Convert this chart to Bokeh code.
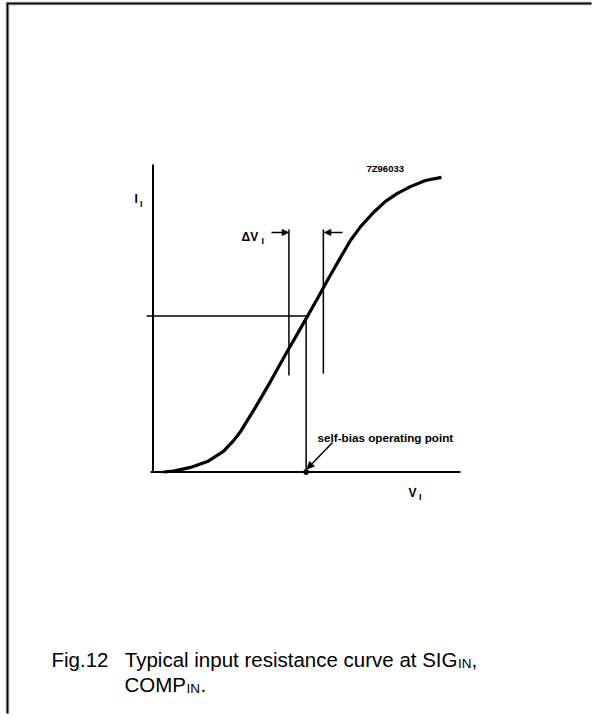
import math
from bokeh.plotting import figure
from bokeh.models import Range1d, Label
from bokeh.embed import file_html
from bokeh.resources import INLINE

# ---- data (normalised units: axis length = 1) ----
curve_v = [0.034, 0.067, 0.122, 0.177, 0.229, 0.262, 0.285, 0.333, 0.382, 0.431,
           0.470, 0.502, 0.535, 0.567, 0.610, 0.642, 0.675, 0.717, 0.756, 0.795,
           0.837, 0.886, 0.938]
curve_i = [0.000, 0.003, 0.015, 0.034, 0.067, 0.102, 0.132, 0.210, 0.294, 0.382,
           0.450, 0.506, 0.564, 0.623, 0.698, 0.753, 0.798, 0.844, 0.880, 0.906,
           0.928, 0.948, 0.958]
op_v, op_i = 0.498, 0.507           # self-bias operating point
dv_v = [0.442, 0.554]               # delta-V markers
dv_top = [0.789, 0.789]
dv_bot = [0.314, 0.320]
axis_x = [-0.008, 1.0]
axis_y = [-0.003, 1.0]

# ---- page-pixel mapping ----
W, H = 603, 725
X0, Y0, S = 152.5, 471.5, 307.5
def sx(px): return (px - X0) / S
def sy(py): return (Y0 - py) / S

p = figure(width=W, height=H, output_backend="svg", toolbar_location=None,
           x_range=Range1d(sx(0), sx(W)), y_range=Range1d(sy(H), sy(0)),
           min_border=0, outline_line_color=None)
p.axis.visible = False
p.grid.visible = False
p.background_fill_color = "white"
p.border_fill_color = "white"

# page border (left and top only), kept well inside the frame
bxs = [sx(7), sx(7), sx(W - 12)]
bys = [sy(H - 12), sy(3), sy(3)]
p.line(x=bxs, y=bys, line_color="#9a9a9a", line_width=3.5, line_join="miter")
p.line(x=bxs, y=bys, line_color="black", line_width=1.5, line_join="miter")

# axes
p.line(x=[0, 0], y=axis_y, line_color="black", line_width=2)
p.line(x=axis_x, y=[0, 0], line_color="black", line_width=2)

# operating point lines
p.line(x=[-0.021, op_v], y=[op_i, op_i], line_color="black", line_width=1.5)
p.line(x=[op_v, op_v], y=[op_i, 0], line_color="black", line_width=1.5)
p.scatter(x=[op_v], y=[0], size=5, color="black")

# delta-V lines
p.segment(x0=dv_v, y0=dv_bot, x1=dv_v, y1=dv_top, line_color="black", line_width=1.5)

# curve
p.line(x=curve_v, y=curve_i, line_color="black", line_width=3.2)

# arrows (drawn as line + filled head, in page pixels)
def arrow(x0, y0, x1, y1, L=7.0, hw=3.2, lw=1.5):
    d = math.hypot(x1 - x0, y1 - y0)
    ux, uy = (x1 - x0) / d, (y1 - y0) / d
    bxp, byp = x1 - ux * L, y1 - uy * L
    nx, ny = -uy, ux
    p.line(x=[sx(x0), sx(bxp)], y=[sy(y0), sy(byp)], line_color="black", line_width=lw)
    p.patch(x=[sx(x1), sx(bxp + nx * hw), sx(bxp - nx * hw)],
            y=[sy(y1), sy(byp + ny * hw), sy(byp - ny * hw)],
            fill_color="black", line_color="black", line_width=0.5)

arrow(271, 232, 288.5, 232)
arrow(342, 232, 323.5, 232)
arrow(332, 442, 306, 469, L=8, hw=3.5)

def lab(txt, x, y, size, bold=True, font="Liberation Sans", align="left"):
    p.add_layout(Label(x=sx(x), y=sy(y), text=txt, text_font=font,
                       text_font_size=f"{size}px", text_font_style="bold" if bold else "normal",
                       text_align=align, text_baseline="alphabetic", text_color="black"))

lab("I", 134, 198, 12)
lab("I", 139.5, 203, 9)
lab("ΔV", 241, 236, 12)
lab("I", 261, 240, 9)
lab("V", 408, 492, 12)
lab("I", 418.5, 496, 9)
lab("7Z96033", 366, 168, 9.5)
lab("self-bias operating point", 317, 437, 11.7)

# caption
lab("Fig.12", 51, 659, 20.5, bold=False)
lab("Typical input resistance curve at SIG", 457, 659, 20.5, bold=False, align="right")
lab("IN", 457.5, 663, 13.5, bold=False)
lab(",", 471, 659, 20.5, bold=False)
lab("COMP", 124, 684, 20.5, bold=False)
lab("IN", 186, 688, 13.5, bold=False)
lab(".", 200, 684, 20.5, bold=False)

open("out.html", "w").write(file_html(p, INLINE))
